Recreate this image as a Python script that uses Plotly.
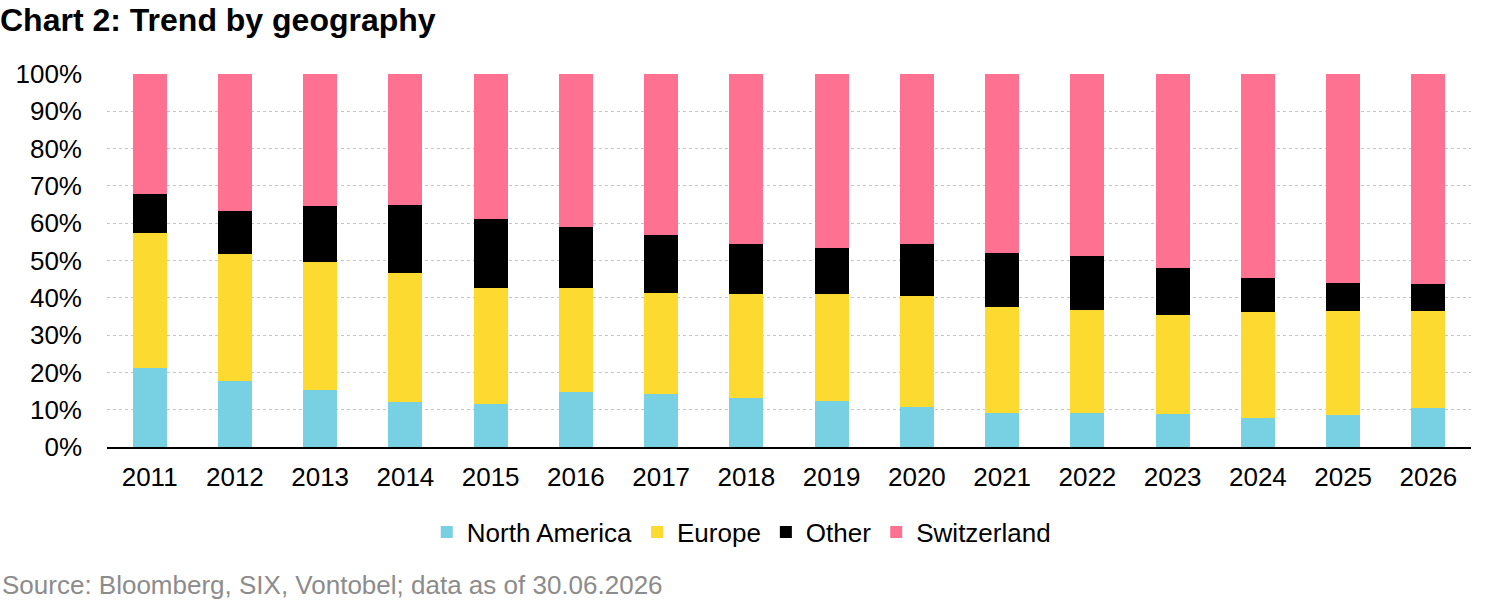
import plotly.graph_objects as go

years = [str(y) for y in range(2011, 2027)]

# cumulative tops (%), converted to segment shares below
north_america = [21.3, 17.7, 15.3, 12.1, 11.5, 14.7, 14.1, 13.2, 12.4, 10.7, 9.2, 9.2, 8.9, 7.8, 8.5, 10.5]
europe_top = [57.3, 51.7, 49.7, 46.7, 42.7, 42.5, 41.3, 41.1, 41.1, 40.6, 37.6, 36.7, 35.5, 36.3, 36.5, 36.5]
other_top = [67.9, 63.4, 64.6, 64.8, 61.2, 59.1, 56.8, 54.3, 53.4, 54.5, 51.9, 51.3, 47.9, 45.4, 44.0, 43.7]

europe = [round(e - n, 1) for e, n in zip(europe_top, north_america)]
other = [round(o - e, 1) for o, e in zip(other_top, europe_top)]
switzerland = [round(100 - o, 1) for o in other_top]

y_ticks = list(range(0, 101, 10))
y_labels = [f"{v}%" for v in y_ticks]

series = [
    ("North America", north_america, "#77D1E3"),
    ("Europe", europe, "#FDDA30"),
    ("Other", other, "#000000"),
    ("Switzerland", switzerland, "#FF7191"),
]

fig = go.Figure()
for name, vals, color in series:
    fig.add_trace(go.Bar(x=years, y=vals, name=name, marker_color=color,
                         marker_line_width=0))

font = "Liberation Sans, Arial, sans-serif"

fig.update_layout(
    barmode="stack",
    bargap=0.6,
    width=1500, height=601,
    margin=dict(l=107, r=29, t=74, b=154),
    plot_bgcolor="white", paper_bgcolor="white",
    font=dict(family=font, size=26, color="#000000"),
    title=dict(text="<b>Chart 2: Trend by geography</b>", x=0, xref="container",
               xanchor="left", y=1 - 20 / 601, yanchor="middle",
               font=dict(size=32, family=font, color="#000000")),
    legend=dict(orientation="h", x=0.465, xanchor="center", y=-0.228, yanchor="middle",
                font=dict(size=26), itemwidth=30, traceorder="normal"),
    showlegend=True,
)
fig.update_yaxes(range=[0, 100], tickmode="array", tickvals=y_ticks, ticktext=y_labels,
                 showgrid=True, gridcolor="#c4c4c4", griddash="dot",
                 gridwidth=1, zeroline=False, ticklabelstandoff=24)
fig.update_xaxes(showline=True, linecolor="#000000", linewidth=2,
                 ticklabelstandoff=6)

fig.add_annotation(text="Source: Bloomberg, SIX, Vontobel; data as of 30.06.2026",
                   xref="paper", yref="paper", x=-107 / 1364, y=-(585 - 447) / 373,
                   xanchor="left", yanchor="middle", showarrow=False,
                   font=dict(size=26, color="#8c8c8c", family=font))

fig.write_html("out.html", config={"displayModeBar": False},
               post_script="document.body.style.margin='0';")
